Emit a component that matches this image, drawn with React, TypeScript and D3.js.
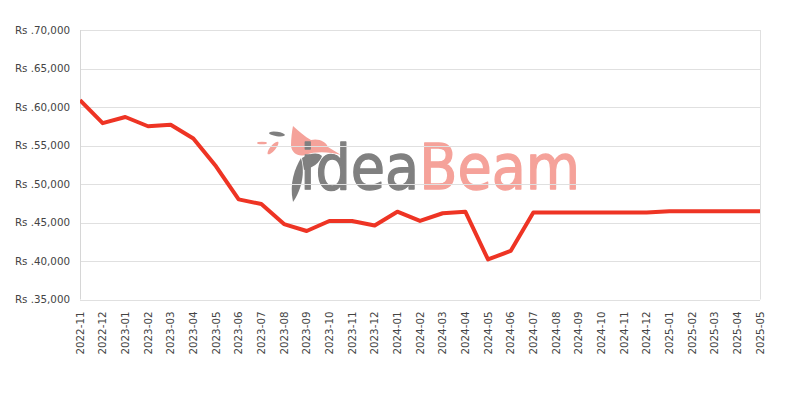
import * as d3 from "d3";
import { useEffect, useRef } from "react";

const months = [
    "2022-11", "2022-12", "2023-01", "2023-02", "2023-03", "2023-04", "2023-05", "2023-06",
    "2023-07", "2023-08", "2023-09", "2023-10", "2023-11", "2023-12", "2024-01", "2024-02",
    "2024-03", "2024-04", "2024-05", "2024-06", "2024-07", "2024-08", "2024-09", "2024-10",
    "2024-11", "2024-12", "2025-01", "2025-02", "2025-03", "2025-04", "2025-05",
];

const prices = [
    60900, 57900, 58700, 57500, 57700, 55900, 52300, 48000,
    47400, 44800, 43900, 45200, 45200, 44600, 46400, 45200,
    46200, 46400, 40200, 41300, 46300, 46300, 46300, 46300,
    46300, 46300, 46450, 46450, 46450, 46450, 46450,
];

const yTicks = [35000, 40000, 45000, 50000, 55000, 60000, 65000, 70000];

export default function App() {
    const ref = useRef<SVGSVGElement | null>(null);

    useEffect(() => {
        if (!ref.current) return;

        const width = 800;
        const height = 400;
        const margin = { top: 30, right: 40, bottom: 100.5, left: 80 };

        const svg = d3.select(ref.current);
        svg.selectAll("*").remove();

        const x = d3.scalePoint()
            .domain(months)
            .range([margin.left, width - margin.right]);

        const y = d3.scaleLinear()
            .domain([35000, 70000])
            .range([height - margin.bottom, margin.top]);

        // watermark logo
        const logo = svg.append("g");
        logo.append("path")
            .attr("d", "M293,126 C299,131 305,137 311,140 C319,138 326,142 328,147 L341,155 C330,152 316,151 305,155 C298,157 292,153 291,146 C291,138 292,131 293,126 Z")
            .attr("fill", "#f5a29a");
        logo.append("path")
            .attr("d", "M302,158 C310,153 318,152 322,156 C320,163 312,168 304,170 Z")
            .attr("fill", "#7f7f7f");
        logo.append("path")
            .attr("d", "M301,158 C295,168 289,183 293,202 C300,192 306,175 301,158 Z")
            .attr("fill", "#7f7f7f");
        logo.append("ellipse")
            .attr("cx", 277).attr("cy", 134).attr("rx", 8).attr("ry", 2.2)
            .attr("transform", "rotate(8,277,134)")
            .attr("fill", "#7f7f7f");
        logo.append("ellipse")
            .attr("cx", 262).attr("cy", 143).attr("rx", 5).attr("ry", 1.3)
            .attr("fill", "#f5a29a");
        logo.append("ellipse")
            .attr("cx", 273).attr("cy", 148).attr("rx", 8).attr("ry", 2.6)
            .attr("transform", "rotate(-50,273,148)")
            .attr("fill", "#f5a29a");
        const wm = logo.append("text")
            .attr("x", 300)
            .attr("y", 189)
            .attr("font-family", "'DejaVu Sans', sans-serif")
            .style("font-stretch", "condensed")
            .attr("font-size", 63)
            .attr("stroke-width", 1.3)
            .attr("stroke-linejoin", "round")
            .attr("textLength", 280)
            .attr("lengthAdjust", "spacingAndGlyphs");
        wm.append("tspan").attr("fill", "#808080").attr("stroke", "#808080").text("idea");
        wm.append("tspan").attr("fill", "#f5a29a").attr("stroke", "#f5a29a").text("Beam");

        // grid
        svg.append("g")
            .selectAll("line")
            .data(yTicks)
            .join("line")
            .attr("x1", margin.left)
            .attr("x2", width - margin.right)
            .attr("y1", (d) => Math.round(y(d)) + 0.5)
            .attr("y2", (d) => Math.round(y(d)) + 0.5)
            .attr("stroke", "#e0e0e0");

        svg.append("line")
            .attr("x1", margin.left + 0.5).attr("x2", margin.left + 0.5)
            .attr("y1", margin.top).attr("y2", height - margin.bottom)
            .attr("stroke", "#d6d6d6");
        svg.append("line")
            .attr("x1", width - margin.right + 0.5).attr("x2", width - margin.right + 0.5)
            .attr("y1", margin.top).attr("y2", height - margin.bottom)
            .attr("stroke", "#e0e0e0");

        // y labels
        svg.append("g")
            .selectAll("text")
            .data(yTicks)
            .join("text")
            .attr("x", margin.left - 10)
            .attr("y", (d) => y(d))
            .attr("dy", "0.35em")
            .attr("text-anchor", "end")
            .attr("font-family", "'DejaVu Sans', sans-serif")
            .attr("font-size", 10.3)
            .attr("fill", "#444")
            .text((d) => `Rs .${d3.format(",")(d)}`);

        // x labels
        svg.append("g")
            .selectAll("text")
            .data(months)
            .join("text")
            .attr("transform", (d) => `translate(${x(d)},${height - margin.bottom + 12}) rotate(-90)`)
            .attr("dy", "0.35em")
            .attr("text-anchor", "end")
            .attr("font-family", "'DejaVu Sans', sans-serif")
            .attr("font-size", 10.3)
            .attr("fill", "#444")
            .text((d) => d);

        // price line
        const line = d3.line<number>()
            .x((_, i) => x(months[i])!)
            .y((d) => y(d));

        svg.append("defs").append("clipPath").attr("id", "plot")
            .append("rect")
            .attr("x", margin.left).attr("y", 0)
            .attr("width", width - margin.left - margin.right)
            .attr("height", height);

        svg.append("path")
            .datum(prices)
            .attr("clip-path", "url(#plot)")
            .attr("d", line)
            .attr("fill", "none")
            .attr("stroke", "#ee3424")
            .attr("stroke-width", 4)
            .attr("stroke-linejoin", "round");
    }, []);

    return (
        <div style={{ position: "absolute", left: 0, top: 0 }}>
            <svg ref={ref} width={800} height={400} style={{ display: "block" }}></svg>
        </div>
    );
}
